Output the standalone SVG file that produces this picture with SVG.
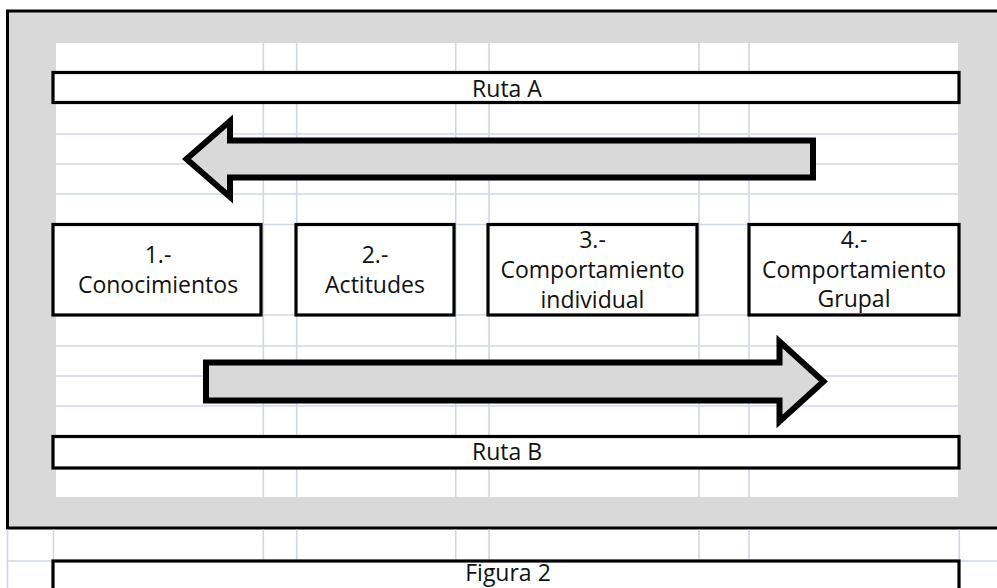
<svg xmlns="http://www.w3.org/2000/svg" width="997" height="588" viewBox="0 0 997 588">
<style>
.grid{stroke:#cfd7e6;stroke-width:1.6;fill:none}
.box{fill:#ffffff;stroke:#000000;stroke-width:3.2}
.arrow{fill:#d9d9d9;stroke:#000000;stroke-width:6;stroke-linejoin:miter;stroke-miterlimit:10}
.t{font-family:"Open Sans","Liberation Sans",sans-serif;font-size:23px;fill:#111111;text-anchor:middle}
</style>
<rect x="0" y="0" width="997" height="588" fill="#ffffff"/>
<g id="frame">
<rect x="7.5" y="11" width="995" height="517" fill="#d9d9d9" stroke="#000000" stroke-width="3"/>
<rect x="56" y="43" width="902" height="454" fill="#ffffff"/>
</g>
<g id="grid" class="grid">
<path d="M263.3 43V497M296.7 43V497M455.7 43V497M489 43V497M699 43V497M749 43V497"/>
<path d="M56 134H958M56 164H958M56 194H958M56 224.5H958M56 315H958M56 346H958M56 376H958M56 406H958"/>
<path d="M7.5 529.5V588M53.5 529.5V561M263.3 529.5V561M296.7 529.5V561M455.7 529.5V561M489 529.5V561M699 529.5V561M749 529.5V561M959.3 529.5V561"/>
<path d="M7.5 561H53M959 561H997"/>
</g>
<g id="ruta-a">
<rect class="box" x="53" y="72.5" width="906" height="30"/>
<text class="t" x="507" y="97">Ruta A</text>
</g>
<g id="node-1">
<rect class="box" x="53" y="224.5" width="208" height="90.5"/>
<text class="t" x="158" y="263">1.-</text>
<text class="t" x="158" y="293">Conocimientos</text>
</g>
<g id="node-2">
<rect class="box" x="296" y="224.5" width="158" height="90.5"/>
<text class="t" x="375" y="263">2.-</text>
<text class="t" x="375" y="293">Actitudes</text>
</g>
<g id="node-3">
<rect class="box" x="488" y="224.5" width="209" height="90.5"/>
<text class="t" x="592.5" y="248">3.-</text>
<text class="t" x="592.5" y="278">Comportamiento</text>
<text class="t" x="592.5" y="308">individual</text>
</g>
<g id="node-4">
<rect class="box" x="749" y="224.5" width="210" height="90.5"/>
<text class="t" x="854" y="248">4.-</text>
<text class="t" x="854" y="278">Comportamiento</text>
<text class="t" x="854" y="307">Grupal</text>
</g>
<g id="ruta-b">
<rect class="box" x="53" y="436.5" width="906" height="31.5"/>
<text class="t" x="507" y="460">Ruta B</text>
</g>
<g id="figura">
<rect class="box" x="53" y="561" width="906" height="40"/>
<text class="t" x="508" y="581" font-size="22">Figura 2</text>
</g>
<g id="connectors">
<polygon class="arrow" points="186.5,159 230,121 230,140.5 813,140.5 813,177.5 230,177.5 230,197"/>
<polygon class="arrow" points="206,362.5 779.5,362.5 779.5,341.5 823.5,381.5 779.5,421.5 779.5,400.5 206,400.5"/>
</g>
</svg>
